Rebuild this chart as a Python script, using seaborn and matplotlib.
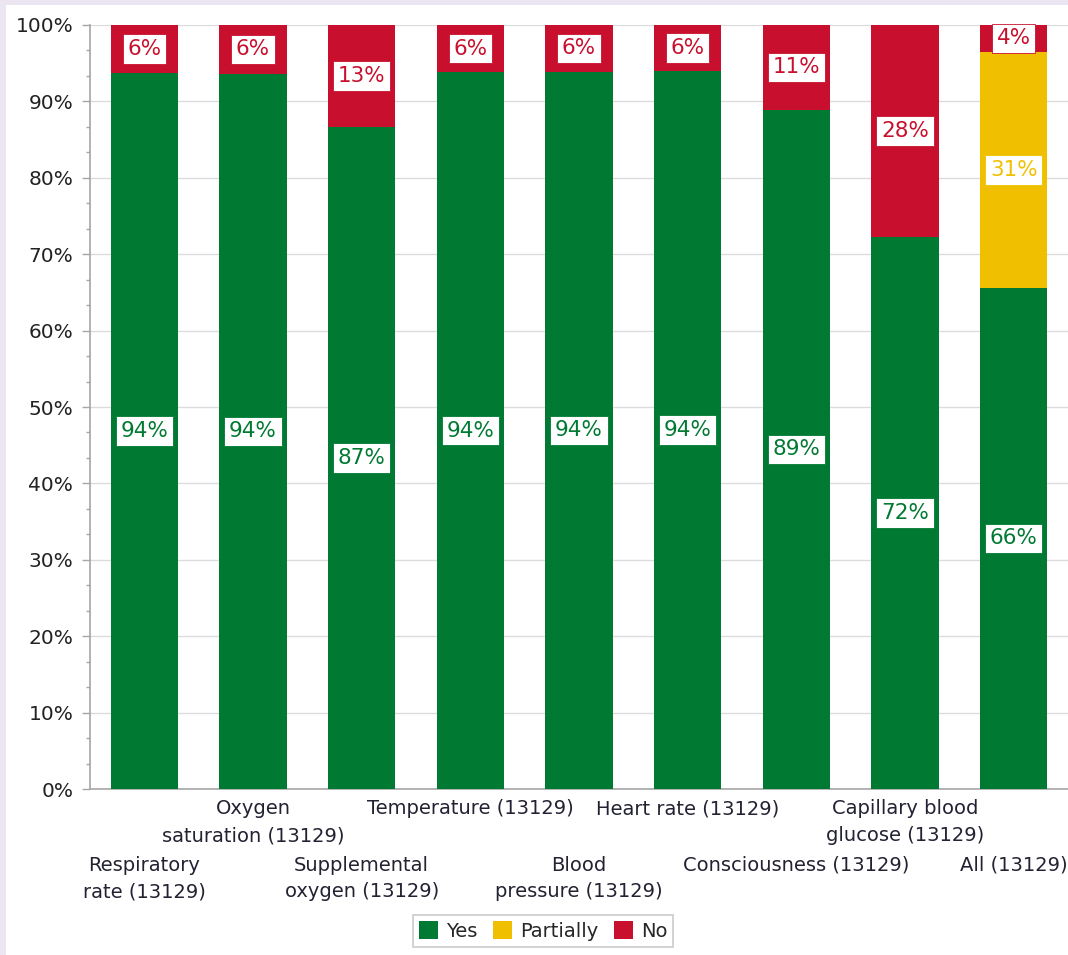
import matplotlib
matplotlib.use("Agg")
import matplotlib.pyplot as plt
from matplotlib.patches import Rectangle, Patch
from matplotlib.ticker import MultipleLocator, AutoMinorLocator, PercentFormatter
from matplotlib.transforms import blended_transform_factory, offset_copy
import seaborn as sns
import pandas as pd
import numpy as np

categories = [
    "Respiratory\nrate (13129)",
    "Oxygen\nsaturation (13129)",
    "Supplemental\noxygen (13129)",
    "Temperature (13129)",
    "Blood\npressure (13129)",
    "Heart rate (13129)",
    "Consciousness (13129)",
    "Capillary blood\nglucose (13129)",
    "All (13129)",
]
yes = [93.7, 93.6, 86.6, 93.8, 93.9, 94.0, 88.9, 72.3, 65.6]
partially = [0, 0, 0, 0, 0, 0, 0, 0, 30.9]
no = [6.3, 6.4, 13.4, 6.2, 6.1, 6.0, 11.1, 27.7, 3.5]

series = ["Yes", "Partially", "No"]
colors = {"Yes": "#007A33", "Partially": "#F0C000", "No": "#C8102E"}

sns.set_theme(style="white")
plt.rcParams["font.family"] = ["DejaVu Sans"]

fig = plt.figure(figsize=(10.68, 9.55), dpi=100, facecolor="#ECE6F2")
fig.patches.append(Rectangle((6 / 1068, 0), 1, 1 - 5 / 955, transform=fig.transFigure,
                             facecolor="white", edgecolor="none", zorder=-10))
ax = fig.add_axes([90 / 1068, 1 - 789 / 955, 1 - 90 / 1068, (789 - 25) / 955])
ax.set_facecolor("white")

df = pd.DataFrame({"cat": categories, "Yes": yes, "Partially": partially, "No": no})
df["c_yes"] = df["Yes"]
df["c_part"] = df["Yes"] + df["Partially"]
df["c_no"] = df["Yes"] + df["Partially"] + df["No"]

# stacked bars: draw cumulative totals from the top layer down
for col, name in [("c_no", "No"), ("c_part", "Partially"), ("c_yes", "Yes")]:
    sns.barplot(data=df, x="cat", y=col, color=colors[name], saturation=1,
                width=0.62, ax=ax, zorder=3, edgecolor="none")

# value labels centred in each segment
x = np.arange(len(categories))
bottoms = np.zeros(len(categories))
for name, vals in [("Yes", yes), ("Partially", partially), ("No", no)]:
    for i, v in enumerate(vals):
        if v > 0:
            ax.text(x[i], bottoms[i] + v / 2, f"{round(v):d}%", ha="center", va="center",
                    fontsize=15.5, color=colors[name], zorder=5,
                    bbox=dict(boxstyle="square,pad=0.22", facecolor="white",
                              edgecolor=colors[name], linewidth=0.6))
    bottoms += np.array(vals)

ax.set_xlim(-0.5, len(categories) - 0.5)
ax.set_ylim(0, 100)
ax.yaxis.set_major_locator(MultipleLocator(10))
ax.yaxis.set_minor_locator(AutoMinorLocator(3))
ax.yaxis.set_major_formatter(PercentFormatter(decimals=0))
ax.grid(axis="y", which="major", color="#DCDCDC", linewidth=1, zorder=0)
ax.set_axisbelow(True)
ax.set_xlabel("")
ax.set_ylabel("")

for s in ["top", "right"]:
    ax.spines[s].set_visible(False)
for s in ["left", "bottom"]:
    ax.spines[s].set_color("#A6A6A6")
    ax.spines[s].set_linewidth(1.2)

ax.tick_params(axis="y", which="major", left=True, length=6, width=1, color="#A6A6A6",
               labelsize=14.5, labelcolor="#222222", pad=6)
ax.tick_params(axis="y", which="minor", left=True, length=3, width=1, color="#A6A6A6")
ax.tick_params(axis="x", length=0)

# staggered category labels in two rows below the axis
ax.set_xticks(x)
ax.set_xticklabels([])
base = blended_transform_factory(ax.transData, ax.transAxes)
row_offsets = [-48, -7.5]  # points below the axis line for each row
for i, c in enumerate(categories):
    tr = offset_copy(base, fig=fig, x=0, y=row_offsets[i % 2], units="points")
    ax.text(x[i], 0, c, transform=tr, ha="center", va="top", multialignment="center",
            fontsize=14, color="#222233", linespacing=1.52, clip_on=False)

handles = [Patch(facecolor=colors[s], edgecolor="none", label=s) for s in series]
leg = fig.legend(handles=handles, loc="center", bbox_to_anchor=(543 / 1068, 1 - 931 / 955),
                 ncol=3, frameon=True, fontsize=14, handlelength=1.0, handleheight=1.0,
                 handletextpad=0.4, columnspacing=0.8, borderpad=0.3, fancybox=False)
leg.get_frame().set_edgecolor("#BDBDBD")
leg.get_frame().set_linewidth(1.2)

fig.savefig("out.png", dpi=100, facecolor=fig.get_facecolor())
